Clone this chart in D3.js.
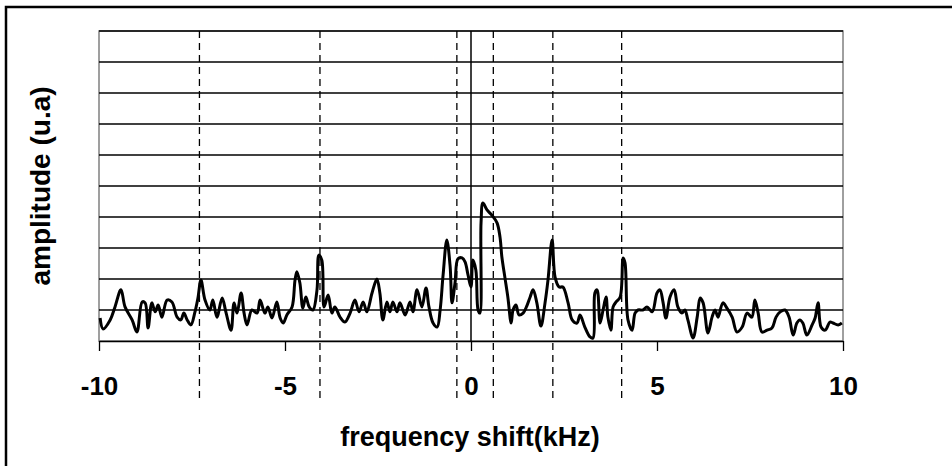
<!DOCTYPE html>
<html><head><meta charset="utf-8">
<script src="https://cdn.jsdelivr.net/npm/d3@7"></script>
<style>html,body{margin:0;padding:0;background:#fff;overflow:hidden}</style>
</head><body>
<svg id="chart" width="952" height="466"></svg>
<script>
const freq = [-9.97,-9.89,-9.70,-9.57,-9.41,-9.30,-9.11,-8.98,-8.84,-8.76,-8.68,-8.58,-8.49,-8.41,-8.31,-8.17,-8.04,-7.90,-7.80,-7.72,-7.63,-7.53,-7.42,-7.34,-7.26,-7.15,-7.02,-6.94,-6.83,-6.69,-6.59,-6.45,-6.37,-6.29,-6.18,-6.10,-6.02,-5.89,-5.75,-5.67,-5.54,-5.46,-5.35,-5.22,-5.13,-5.05,-4.95,-4.81,-4.73,-4.68,-4.60,-4.52,-4.44,-4.35,-4.25,-4.14,-4.09,-4.01,-3.95,-3.84,-3.74,-3.66,-3.52,-3.39,-3.25,-3.12,-3.01,-2.90,-2.80,-2.66,-2.53,-2.45,-2.37,-2.26,-2.18,-2.10,-1.99,-1.91,-1.77,-1.64,-1.56,-1.45,-1.32,-1.21,-1.13,-1.02,-0.91,-0.83,-0.75,-0.65,-0.56,-0.51,-0.43,-0.35,-0.24,-0.16,-0.08,0.00,0.05,0.13,0.19,0.24,0.27,0.32,0.43,0.56,0.70,0.78,0.83,0.91,0.99,1.08,1.13,1.21,1.29,1.40,1.51,1.59,1.67,1.77,1.88,1.99,2.07,2.18,2.26,2.37,2.47,2.61,2.72,2.85,2.93,3.06,3.20,3.28,3.33,3.39,3.47,3.55,3.63,3.68,3.76,3.82,3.90,4.01,4.09,4.14,4.22,4.33,4.41,4.49,4.62,4.73,4.87,5.00,5.08,5.16,5.24,5.35,5.46,5.56,5.67,5.75,5.83,5.97,6.08,6.16,6.24,6.37,6.48,6.56,6.64,6.77,6.88,7.02,7.15,7.29,7.42,7.55,7.63,7.72,7.82,7.96,8.09,8.20,8.31,8.44,8.55,8.66,8.76,8.84,8.92,9.03,9.17,9.25,9.33,9.41,9.52,9.65,9.73,9.87,9.97];
const amplitude = [0.74,0.39,0.68,1.10,1.65,1.10,0.68,0.29,1.26,1.23,0.42,1.23,0.94,1.16,0.77,1.32,1.26,0.77,0.68,0.90,0.68,0.52,0.94,1.39,1.97,1.32,1.00,1.32,0.77,1.39,0.94,0.35,1.23,0.90,1.55,0.90,0.52,1.00,0.90,1.32,0.90,1.10,0.74,1.26,0.74,0.58,0.84,1.10,1.97,2.23,1.87,1.06,1.42,1.10,1.00,1.65,2.77,2.61,1.10,1.48,0.90,1.10,0.77,0.61,0.90,1.32,0.94,1.26,0.94,1.55,2.00,1.55,0.68,1.26,0.94,1.26,0.94,1.23,0.84,1.26,0.94,1.65,1.10,1.71,1.10,0.58,0.45,1.00,2.13,3.26,2.39,1.23,1.87,2.65,2.68,2.55,2.13,1.74,2.61,2.29,1.00,0.90,3.81,4.45,4.23,4.06,3.81,3.35,2.71,2.06,1.42,0.58,1.00,1.16,0.84,0.90,1.16,1.42,1.65,1.23,0.48,1.23,1.97,3.26,2.06,1.74,1.74,1.23,0.68,0.58,0.84,0.45,0.13,0.10,1.55,1.65,0.58,1.00,1.42,0.77,0.35,1.10,1.26,1.42,2.68,2.52,0.68,0.35,0.90,1.00,1.00,1.10,0.94,1.55,1.65,1.26,0.74,1.42,1.65,1.10,0.90,1.00,0.68,0.10,0.77,1.39,1.23,0.26,0.77,1.00,0.77,1.23,1.06,0.77,0.29,0.45,0.90,0.77,1.32,0.90,0.29,0.35,0.42,0.77,0.94,1.00,0.77,0.19,0.58,0.68,0.58,0.19,0.52,0.74,1.23,0.45,0.35,0.61,0.58,0.52,0.58];
const xTicks = [-10, -5, 0, 5, 10];
const xTickLabels = ["-10", "-5", "0", "5", "10"];
const yGrid = [0,1,2,3,4,5,6,7,8,9,10];
const markers = [-7.3, -4.06, -0.38, 0.6, 2.2, 4.05];
const xTitle = "frequency shift(kHz)";
const yTitle = "amplitude (u.a)";

const svg = d3.select("#chart");
const L = 99, R = 843, T = 31, B = 341;
const x = d3.scaleLinear().domain([-10, 10]).range([L, R]);
const y = d3.scaleLinear().domain([0, 10]).range([B, T]);
const font = "'Liberation Sans', Arial, sans-serif";

// outer frame
svg.append("rect").attr("x", 6).attr("y", 7).attr("width", 1000).attr("height", 500)
  .attr("fill", "none").attr("stroke", "#000").attr("stroke-width", 2.5);

// plot area
svg.append("rect").attr("x", L).attr("y", T).attr("width", R - L).attr("height", B - T)
  .attr("fill", "#fff").attr("stroke", "#808080").attr("stroke-width", 1.5);

// gridlines
svg.append("g").selectAll("line").data(yGrid.slice(1)).join("line")
  .attr("x1", L).attr("x2", R).attr("y1", d => y(d)).attr("y2", d => y(d))
  .attr("stroke", "#000").attr("stroke-width", 1.4);

// dashed markers
svg.append("g").selectAll("line").data(markers).join("line")
  .attr("x1", d => x(d)).attr("x2", d => x(d)).attr("y1", T).attr("y2", 398)
  .attr("stroke", "#000").attr("stroke-width", 1.3).attr("stroke-dasharray", "7,5");

// y axis at zero
svg.append("line").attr("x1", x(0)).attr("x2", x(0)).attr("y1", T).attr("y2", B)
  .attr("stroke", "#000").attr("stroke-width", 1.5);

// x axis
const xAxis = d3.axisBottom(x).tickValues(xTicks).tickSize(10).tickFormat((d, i) => xTickLabels[i]).tickSizeOuter(0);
const gx = svg.append("g").attr("transform", `translate(0,${B})`).call(xAxis);
gx.select(".domain").attr("stroke", "#000").attr("stroke-width", 1.5);
gx.selectAll(".tick line").attr("stroke", "#000").attr("stroke-width", 1.3);
gx.selectAll(".tick text").attr("font-family", font).attr("font-weight", "bold")
  .attr("font-size", 26).attr("fill", "#000").attr("dy", 0).attr("y", 54);

// data line
const line = d3.line().x((d, i) => x(freq[i])).y(d => y(d)).curve(d3.curveCatmullRom.alpha(0.5));
svg.append("path").datum(amplitude).attr("d", line)
  .attr("fill", "none").attr("stroke", "#000").attr("stroke-width", 3).attr("stroke-linejoin", "round");

// titles
svg.append("text").attr("x", 470).attr("y", 446).attr("text-anchor", "middle")
  .attr("font-family", font).attr("font-weight", "bold").attr("font-size", 27).text(xTitle);
svg.append("text").attr("transform", "translate(50,186) rotate(-90)").attr("text-anchor", "middle")
  .attr("font-family", font).attr("font-weight", "bold").attr("font-size", 28).text(yTitle);
</script>
</body></html>
